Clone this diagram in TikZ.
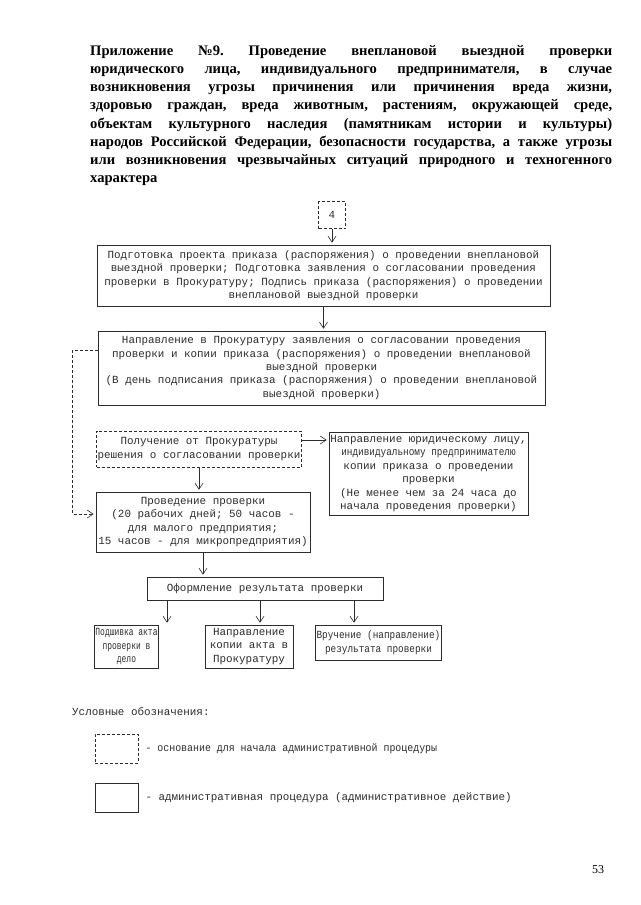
\documentclass[tikz,border=0pt]{standalone}
\definecolor{frameink}{RGB}{45, 45, 45}
\definecolor{typeink}{RGB}{45, 45, 45}
\usepackage{fontspec}
\setmainfont{Liberation Serif}
\newfontfamily\monofont{Liberation Mono}
\newfontfamily\slimmono{Liberation Mono}[FakeStretch=0.73]
\newfontfamily\narrowmono{Liberation Mono}[FakeStretch=0.86]
\newfontfamily\keymono{Liberation Mono}[FakeStretch=0.91]
\usepackage{tikz}
\usetikzlibrary{arrows.meta, positioning, calc}

\begin{document}
\begin{tikzpicture}[x=1pt, y=-1pt,
    procbox/.style={draw=frameink, line width=0.6pt, text=typeink, align=center,
      inner sep=1pt, font=\monofont\fontsize{10.9}{13.4}\selectfont},
    basebox/.style={procbox, dash pattern=on 3pt off 2pt},
    flow/.style={draw=frameink, line width=0.6pt, shorten >=2pt,
      -{Straight Barb[length=6pt, width=8pt, line width=0.6pt]}},
    backflow/.style={flow, dash pattern=on 3pt off 2pt},
    legendtext/.style={anchor=west, inner sep=0pt, text=typeink,
      font=\monofont\fontsize{10.9}{13.4}\selectfont}]
  \useasboundingbox[fill=white] (0,0) rectangle (640,905);

  \node[anchor=north west, inner sep=0pt, text width=522pt, align=justify,
    font=\bfseries\fontsize{14.6}{18.2}\selectfont\frenchspacing] (title) at (90,45) {%
    Приложение №9. Проведение внеплановой выездной проверки\linebreak
    юридического лица, индивидуального предпринимателя, в случае\linebreak
    возникновения угрозы причинения или причинения вреда жизни,\linebreak
    здоровью граждан, вреда животным, растениям, окружающей среде,\linebreak
    объектам культурного наследия (памятникам истории и культуры)\linebreak
    народов Российской Федерации, безопасности государства, а также угрозы\linebreak
    или возникновения чрезвычайных ситуаций природного и техногенного\linebreak
    характера};

  \node[basebox, minimum width=27pt, minimum height=27pt] (start) at (332,215) {4};
  \node[procbox, minimum width=453pt, minimum height=61pt] (prep) at (323.5,275.5)
    {Подготовка проекта приказа (распоряжения) о проведении внеплановой\\
     выездной проверки; Подготовка заявления о согласовании проведения\\
     проверки в Прокуратуру; Подпись приказа (распоряжения) о проведении\\
     внеплановой выездной проверки};
  \node[procbox, minimum width=447pt, minimum height=74pt] (send) at (321.5,368)
    {Направление в Прокуратуру заявления о согласовании проведения\\
     проверки и копии приказа (распоряжения) о проведении внеплановой\\
     выездной проверки\\
     (В день подписания приказа (распоряжения) о проведении внеплановой\\
     выездной проверки)};
  \node[basebox, minimum width=204pt, minimum height=36pt] (approval) at (199,449)
    {Получение от Прокуратуры\\ решения о согласовании проверки};
  \node[procbox, minimum width=199pt, minimum height=83pt,
    font=\narrowmono\fontsize{10.9}{13.4}\selectfont] (notify) at (428.5,473.5)
    {\monofont Направление юридическому лицу,\\
     индивидуальному предпринимателю\\
     \monofont копии приказа о проведении\\
     \monofont проверки\\
     \monofont (Не менее чем за 24 часа до\\
     \monofont начала проведения проверки)};
  \node[procbox, minimum width=214pt, minimum height=60pt] (inspect) at (203,522)
    {Проведение проверки\\
     (20 рабочих дней; 50 часов -\\
     для малого предприятия;\\
     15 часов - для микропредприятия)};
  \node[procbox, minimum width=236pt, minimum height=23pt] (result) at (265,588.5)
    {Оформление результата проверки};
  \node[procbox, minimum width=63pt, minimum height=43pt,
    font=\slimmono\fontsize{10.9}{13.4}\selectfont] (file) at (126.5,646.5)
    {Подшивка акта\\ проверки в\\ дело};
  \node[procbox, minimum width=88pt, minimum height=43pt] (copy) at (249,646.5)
    {Направление\\ копии акта в\\ Прокуратуру};
  \node[procbox, minimum width=125pt, minimum height=35pt,
    font=\narrowmono\fontsize{10.9}{13.4}\selectfont] (hand) at (378.5,642.5)
    {Вручение (направление)\\ результата проверки};

  \draw[flow] (start.south) -- (start.south |- prep.north);
  \draw[flow] (prep.south) -- (prep.south |- send.north);
  \draw[backflow] ([yshift=18pt]send.west) -- ++(-25,0) |- ([yshift=8pt]inspect.west);
  \draw[flow] ([yshift=9pt]approval.east) -- ([yshift=9pt]approval.east -| notify.west);
  \draw[flow] (approval.south) -- (approval.south |- inspect.north);
  \draw[flow] (inspect.south) -- (inspect.south |- result.north);
  \draw[flow] ([xshift=-98pt]result.south) -- ([xshift=-98pt]result.south |- file.north);
  \draw[flow] ([xshift=-5pt]result.south) -- ([xshift=-5pt]result.south |- copy.north);
  \draw[flow] ([xshift=89pt]result.south) -- ([xshift=89pt]result.south |- hand.north);

  \node[legendtext] (legend) at (72,712) {Условные обозначения:};
  \node[basebox, minimum width=43pt, minimum height=29pt] (keybase) at (116.5,748.5) {};
  \node[legendtext, right=7pt of keybase, font=\keymono\fontsize{10.9}{13.4}\selectfont]
    (keybasetext) {- основание для начала административной процедуры};
  \node[procbox, minimum width=43pt, minimum height=29pt] (keyproc) at (116.5,797.5) {};
  \node[legendtext, right=7pt of keyproc] (keyproctext)
    {- административная процедура (административное действие)};

  \node[font=\fontsize{12}{14}\selectfont] (page) at (598,870) {53};
\end{tikzpicture}
\end{document}
